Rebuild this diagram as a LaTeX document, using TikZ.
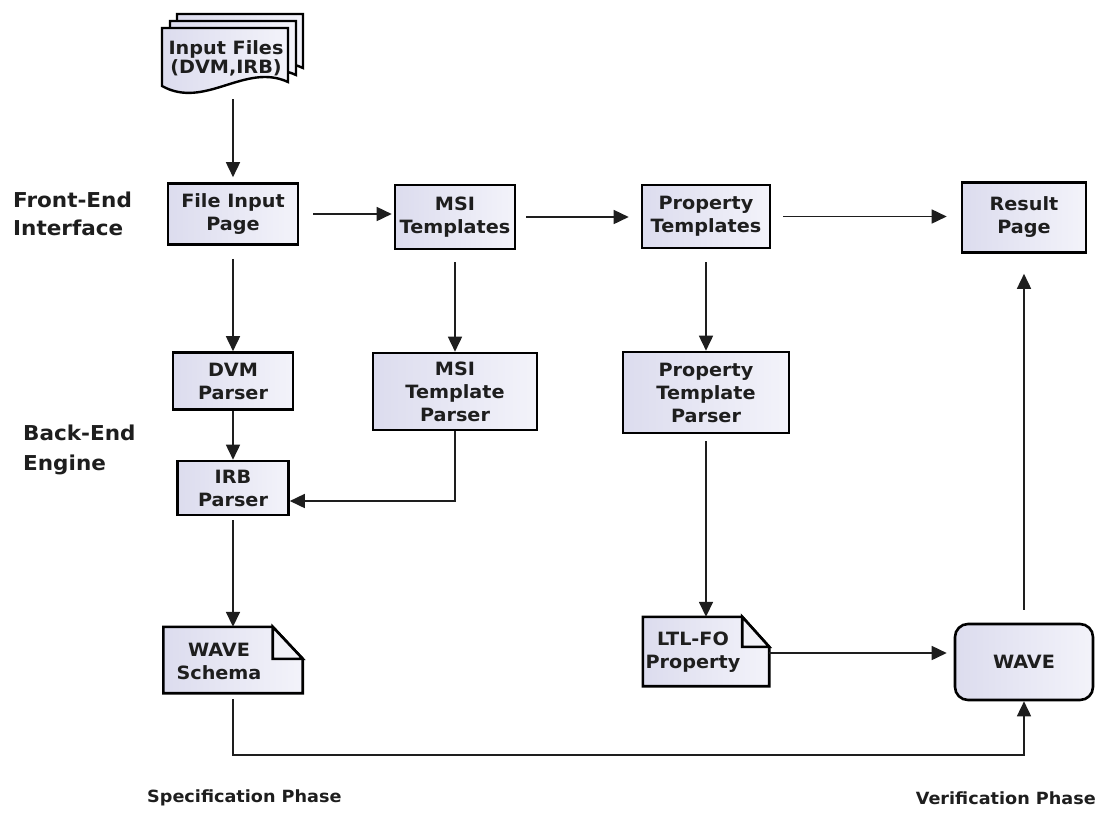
\documentclass[tikz,border=0pt]{standalone}
\usepackage{fontspec}
\newfontfamily\dv{DejaVu Sans}[FakeStretch=1.05]
\usetikzlibrary{arrows.meta,backgrounds,calc}

\definecolor{lavL}{HTML}{DCDCEE}
\definecolor{lavR}{HTML}{F3F3FA}
\definecolor{foldc}{HTML}{F2F2F8}
\definecolor{ink}{HTML}{1E1E1E}

\tikzset{
  boxtext/.style={font=\dv\bfseries\fontsize{18.3}{23}\selectfont, text=ink, align=center, inner sep=0pt},
  boxline/.style={draw=black, line width=2.6pt, line join=miter},
  procbox/.style 2 args={boxtext, boxline, left color=lavL, right color=lavR,
    minimum width=#1, minimum height=#2},
  shapebox/.style 2 args={inner sep=0pt, minimum width=#1, minimum height=#2},
  sidelabel/.style={font=\dv\bfseries\fontsize{20.5}{28}\selectfont, text=ink, align=left, inner sep=0pt},
  phaselabel/.style={font=\dv\bfseries\fontsize{16.8}{20}\selectfont, text=ink, inner sep=0pt},
  arr/.style={draw=ink, line width=1.6pt, -{Triangle[length=15pt,width=14pt]}},
}

\begin{document}
\begin{tikzpicture}[x=1pt,y=-1pt]
\useasboundingbox (0,0) rectangle (1105,836);

% stacked input pages (back to front)
\foreach \dx/\dy in {15/-14, 8/-7, 0/0} {
  \draw[boxline, line width=2.4pt, left color=lavL, right color=lavR]
    ({162+\dx},{28+\dy}) -- ({288+\dx},{28+\dy}) -- ({288+\dx},{82+\dy})
    .. controls ({245+\dx},{62+\dy}) and ({205+\dx},{110+\dy}) .. ({162+\dx},{86+\dy}) -- cycle;
}
\node[boxtext, font=\dv\bfseries\fontsize{18.3}{19}\selectfont] (inp) at (226,58) {Input Files\\(DVM,IRB)};
\coordinate (inpbot) at (233,99);

% front-end row
\node[procbox={130pt}{61pt}] (fip) at (233,214) {File Input\\Page};
\node[procbox={120pt}{64pt}] (msi) at (455,217) {MSI\\Templates};
\node[procbox={128pt}{63pt}] (prop) at (706,216.5) {Property\\Templates};
\node[procbox={124pt}{70pt}] (res) at (1024,217.5) {Result\\Page};

% back-end parsers
\node[procbox={120pt}{57pt}] (dvm) at (233,381) {DVM\\Parser};
\node[procbox={164pt}{77pt}] (msip) at (455,391.5) {MSI\\Template\\Parser};
\node[procbox={166pt}{81pt}] (propp) at (706,392.5) {Property\\Template\\Parser};
\node[procbox={111pt}{54pt}] (irb) at (233,488) {IRB\\Parser};

% generated documents and the verifier
\node[shapebox={139pt}{66pt}] (ws) at (233,660) {};
\node[boxtext] (wst) at (219,661) {WAVE\\Schema};
\node[shapebox={126pt}{69pt}] (ltl) at (706,651.5) {};
\node[boxtext] (ltlt) at (693,652) {LTL-FO\\Property};
\node[procbox={138pt}{76pt}, rounded corners=13pt] (wave) at (1024,662) {WAVE};

\begin{scope}[on background layer]
  \draw[boxline, left color=lavL, right color=lavR]
    (ws.north west) -- ([xshift=-30pt]ws.north east) -- ([yshift=-32pt]ws.north east)
    -- (ws.south east) -- (ws.south west) -- cycle;
  \draw[boxline, fill=foldc]
    ([xshift=-30pt]ws.north east) -- ([xshift=-30pt,yshift=-32pt]ws.north east)
    -- ([yshift=-32pt]ws.north east) -- cycle;
  \draw[boxline, left color=lavL, right color=lavR]
    (ltl.north west) -- ([xshift=-27pt]ltl.north east) -- ([yshift=-30pt]ltl.north east)
    -- (ltl.south east) -- (ltl.south west) -- cycle;
  \draw[boxline, fill=foldc]
    ([xshift=-27pt]ltl.north east) -- ([xshift=-27pt,yshift=-30pt]ltl.north east)
    -- ([yshift=-30pt]ltl.north east) -- cycle;
\end{scope}

% side and phase labels
\node[sidelabel, anchor=north west] (fe) at (13,192) {Front-End\\Interface};
\node[sidelabel, anchor=north west, font=\dv\bfseries\fontsize{20.5}{30}\selectfont] (be) at (23,425) {Back-End\\Engine};
\node[phaselabel, anchor=west] (spec) at (147,798) {Specification Phase};
\node[phaselabel, anchor=east] (verif) at (1096,798) {Verification Phase};

% connectors
\draw[arr, shorten >=5pt] (inpbot) -- (fip.north);
\draw[arr, shorten <=14pt, shorten >=2pt] (fip.east) -- (fip.east -| msi.west);
\draw[arr, shorten <=10pt, shorten >=12pt] (msi.east) -- (msi.east -| prop.west);
\draw[arr, shorten <=12pt, shorten >=14pt] (prop.east) -- (prop.east -| res.west);
\draw[arr, shorten <=13pt] (fip.south) -- (dvm.north);
\draw[arr, shorten <=12pt] (msi.south) -- (msip.north);
\draw[arr, shorten <=13pt] (prop.south) -- (propp.north);
\draw[arr] (dvm.south) -- (irb.north);
\draw[arr] (msip.south) |- ($(irb.east)+(0,13)$);
\draw[arr, shorten <=4pt] (irb.south) -- (ws.north);
\draw[arr, shorten <=7pt] (propp.south) -- (ltl.north);
\draw[arr, shorten >=7pt] (ltl.east |- 0,653) -- (wave.west |- 0,653);
\coordinate (bend) at (233,755);
\draw[arr, shorten <=6pt] (ws.south) -- (bend) -| (wave.south);
\draw[arr, shorten <=13pt, shorten >=20pt] (wave.north) -- (res.south);
\end{tikzpicture}
\end{document}
